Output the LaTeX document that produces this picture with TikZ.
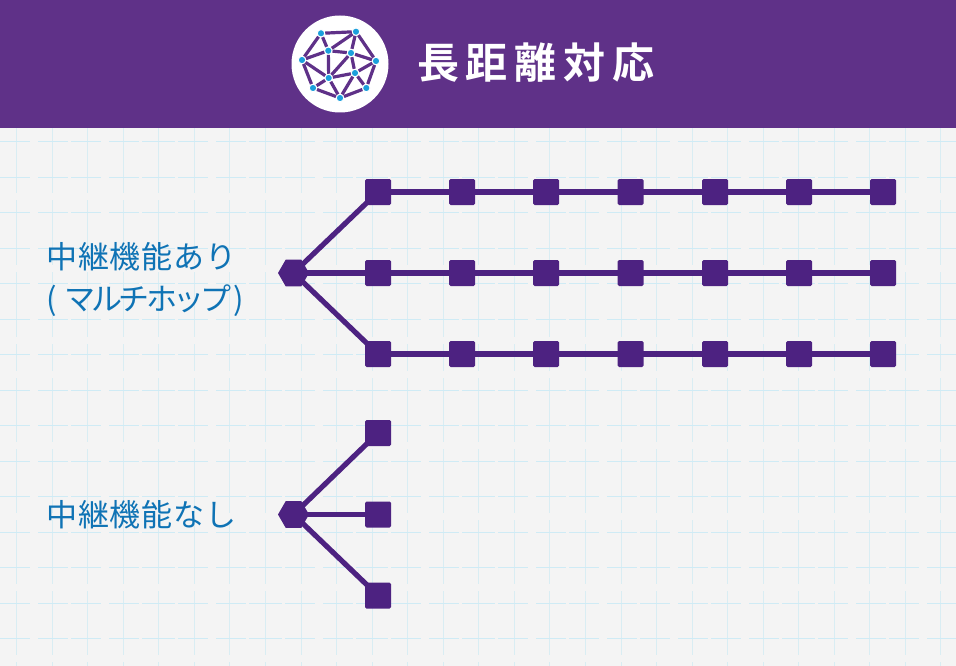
\documentclass[tikz,border=0pt]{standalone}
\usepackage{fontspec}
\usetikzlibrary{shapes.geometric}
\newfontfamily\jp[LetterSpace=2.8]{Noto Sans CJK JP}
\newfontfamily\jpk[LetterSpace=-12.5]{Noto Sans CJK JP}
\newfontfamily\jpt[LetterSpace=16]{Noto Sans CJK JP Bold}
\definecolor{hdr}{HTML}{5F3188}
\definecolor{deep}{HTML}{4D2281}
\definecolor{paper}{HTML}{F4F4F4}
\definecolor{gridh}{HTML}{CFEBF5}
\definecolor{gridv}{HTML}{D9EDF3}
\definecolor{lab}{HTML}{0F73B5}
\definecolor{dotc}{HTML}{1BA0DC}
\tikzset{
  sq/.style={draw=none,fill=deep,rounded corners=1.5pt,minimum size=26pt,inner sep=0pt},
  hub/.style={draw=none,fill=deep,regular polygon,regular polygon sides=6,minimum size=31pt,inner sep=0pt},
  link/.style={draw=deep,line width=5.2pt},
  dot/.style={circle,fill=dotc,draw=white,line width=1pt,minimum size=7.5pt,inner sep=0pt},
  mesh/.style={draw=hdr,line width=3.2pt},
  lbl/.style={anchor=west,text=lab,font=\jp\fontsize{31}{31}\selectfont,inner sep=0pt},
}
\begin{document}
\begin{tikzpicture}[x=1pt,y=-1pt]
\useasboundingbox (0,0) rectangle (956,666);
\fill[paper] (0,0) rectangle (956,666);
% grid
\foreach \i in {0,...,26} {\pgfmathsetmacro\gx{16.5+35.55*\i}\draw[draw=gridv,line width=0.7pt] (\gx,128) -- (\gx,666);}
\foreach \i in {0,...,14} {\pgfmathsetmacro\gy{141.7+35.5*\i}\draw[draw=gridh,line width=0.8pt] (0,\gy) -- (956,\gy);}
\foreach \i in {0,...,26} {\pgfmathsetmacro\gx{34.3+35.55*\i}
  \fill[paper] (\gx-1.5,128) rectangle (\gx+1.5,666);}
\foreach \i in {0,2,5,8,11,14,16,18,20,23,25} {\pgfmathsetmacro\gx{34.3+35.55*\i}
  \fill[paper] (\gx-4,128) rectangle (\gx+4,666);}
\foreach \c in {196,268,340,374,445,516,587,658} {\fill[paper] (0,\c-3.5) rectangle (956,\c+3.5);}
% header
\fill[hdr] (0,0) rectangle (956,128);
\node[circle,fill=white,minimum size=97pt,inner sep=0pt] (disc) at (340,64) {};
\node[anchor=west,text=white,inner sep=0pt,font=\jpt\fontsize{42}{42}\selectfont] (title) at (417,63) {長距離対応};
% icon mesh
\foreach \n/\x/\y in {a/321/33.3,b/356/31.7,c/328.3/50.7,d/351/53,e/302/60,f/376/61,g/355/73,h/328.7/78,i/313/88,j/366.3/88,k/340/98}
  \node[dot] (\n) at (\x,\y) {};
\foreach \p/\q in {a/b,a/c,a/e,b/c,b/d,b/f,c/d,c/e,c/h,d/f,d/g,d/h,e/h,e/i,f/g,f/j,g/h,g/j,g/k,h/i,h/k,i/k,j/k}
  \draw[mesh] (\p) -- (\q);
% network nodes
\node[hub] (hubA) at (293.5,273) {};
\node[hub] (hubB) at (293.5,514.5) {};
\foreach \r/\y in {1/192,2/273,3/354}
  \foreach \cc/\x in {1/378,2/462,3/546,4/630.5,5/715,6/799,7/883}
    \node[sq] (n\r\cc) at (\x,\y) {};
\node[sq] (m1) at (378,433) {};
\node[sq] (m2) at (378,514.5) {};
\node[sq] (m3) at (378,595.5) {};
\foreach \r in {1,2,3} {
  \draw[link] (hubA.center) -- (n\r1.center);
  \foreach \cc [remember=\cc as \pc (initially 1)] in {2,...,7}
    \draw[link] (n\r\pc.center) -- (n\r\cc.center);
}
\foreach \r in {1,2,3} \draw[link] (hubB.center) -- (m\r.center);
% labels
\node[lbl] (l1) at (46,257) {中継機能あり};
\node[lbl] (l2) at (46,301) {(\kern8pt{\jpk\fontsize{31}{31}\selectfont マルチホップ}\kern2pt)};
\node[lbl] (l3) at (46,515) {中継機能なし};
\end{tikzpicture}
\end{document}
